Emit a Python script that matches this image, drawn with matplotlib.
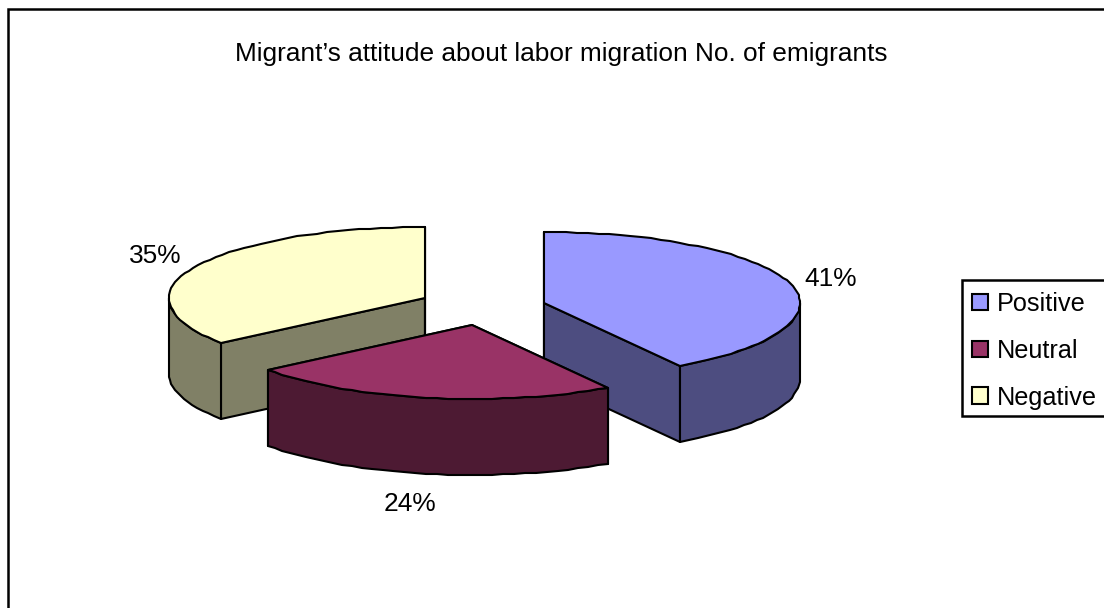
import numpy as np
import matplotlib
matplotlib.use('Agg')
import matplotlib.pyplot as plt
from matplotlib.patches import Polygon, Patch, Rectangle

title = 'Migrant\u2019s attitude about labor migration No. of emigrants'
categories = ['Positive', 'Neutral', 'Negative']
percent = [41.1, 23.6, 35.3]

top_colors = ['#9999FF', '#993366', '#FFFFCC']
side_colors = ['#4D4D80', '#4D1A33', '#808066']
# apex of each exploded slice, in pixels
apex = [(544, 303), (472, 325), (425, 298)]
label_pos = [(831, 279), (410, 504), (155, 256)]

rx = 256
ry_back = 71
ry_front = 74
depth = 76

plt.rcParams['font.family'] = ['Liberation Sans', 'DejaVu Sans']

fig = plt.figure(figsize=(11.04, 6.08), dpi=100)
ax = fig.add_axes([0, 0, 1, 1])
ax.set_xlim(0, 1104)
ax.set_ylim(608, 0)
ax.axis('off')


def rim(cx, cy, t):
    # t in degrees, clockwise from 12 o'clock; whole pixels like the old renderer
    r = np.radians(t)
    c = np.cos(r)
    x = cx + rx * np.sin(r)
    y = cy - np.where(c > 0, ry_back, ry_front) * c
    return np.column_stack([np.round(x), np.round(y)])


ax.add_patch(Rectangle((8, 9), 1110, 620, fc='white', ec='black', lw=1.8))

edges = np.cumsum([0] + percent) * 3.6
# back slices first so the neutral one sits on top
for i in [2, 0, 1]:
    cx, cy = apex[i]
    t0, t1 = edges[i], edges[i + 1]
    a = np.array([[cx, cy]])

    for t in (t0, t1):
        p = rim(cx, cy, np.array([t]))
        wall = np.vstack([a, p, p + [0, depth], a + [0, depth]])
        ax.add_patch(Polygon(wall, fc=side_colors[i], ec='black', lw=1.5, joinstyle='round'))

    lo, hi = max(t0, 90), min(t1, 270)
    if hi > lo:
        arc = rim(cx, cy, np.linspace(lo, hi, int((hi - lo) / 2.5) + 2))
        wall = np.vstack([arc, arc[::-1] + [0, depth]])
        ax.add_patch(Polygon(wall, fc=side_colors[i], ec='black', lw=1.5, joinstyle='round'))

    arc = rim(cx, cy, np.linspace(t0, t1, int((t1 - t0) / 2.5) + 2))
    ax.add_patch(Polygon(np.vstack([a, arc]), fc=top_colors[i], ec='black', lw=1.5, joinstyle='round'))

    ax.text(label_pos[i][0], label_pos[i][1], '%.0f%%' % percent[i], fontsize=18.9,
            ha='center', va='center', color='black')

ax.text(561, 54, title, fontsize=18.9, ha='center', va='center', color='black')

ax.add_patch(Rectangle((962, 280), 160, 136, fc='white', ec='black', lw=1.8, zorder=3))
handles = [Patch(fc=c, ec='black', lw=1.5) for c in top_colors]
leg = ax.legend(handles, categories, loc='upper left', bbox_to_anchor=(972, 292),
                bbox_transform=ax.transData, fontsize=18.2, frameon=False,
                borderaxespad=0, borderpad=0, labelspacing=0.9,
                handlelength=0.63, handleheight=0.63, handletextpad=0.36)
leg.set_zorder(4)

fig.savefig('out.png', dpi=100)
